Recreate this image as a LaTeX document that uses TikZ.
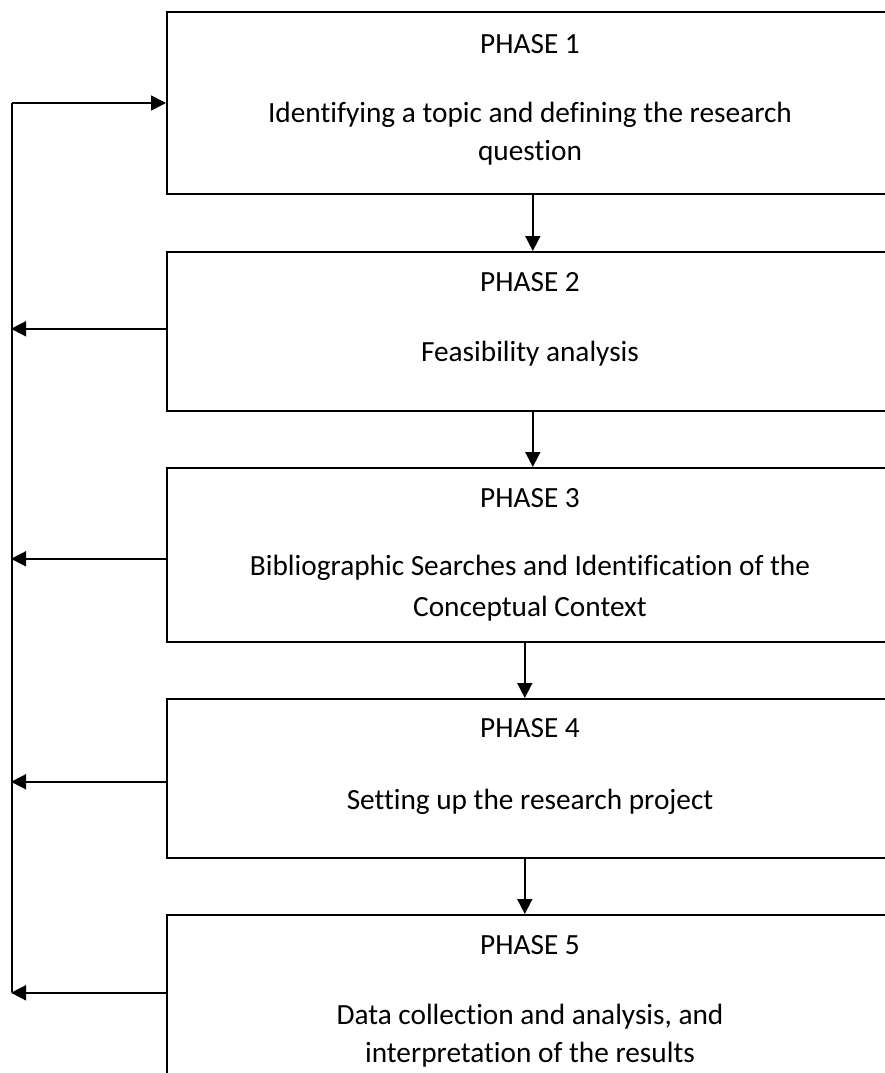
\documentclass[tikz,border=0pt]{standalone}
\usepackage{fontspec}
\setmainfont{Carlito}[Ligatures=NoCommon]
\usetikzlibrary{arrows.meta}

\tikzset{
  phasebox/.style={draw, line width=1.6pt, minimum width=728pt, inner sep=0pt, anchor=north west},
  phasetext/.style={font=\fontsize{29.3}{38}\selectfont, align=center, inner sep=0pt},
  flow/.style={line width=1.6pt, -{Triangle[length=15pt,width=15pt]}},
  bus/.style={line width=1.6pt}
}

\begin{document}
\begin{tikzpicture}[x=1pt,y=-1pt]
\useasboundingbox (0,0) rectangle (885,1073);
\clip (0,0) rectangle (885,1073);

\node[phasebox, minimum height=182pt] (p1) at (166,11) {};
\node[phasebox, minimum height=159pt] (p2) at (166,251) {};
\node[phasebox, minimum height=174pt] (p3) at (166,467) {};
\node[phasebox, minimum height=159pt] (p4) at (166,698) {};
\node[phasebox, minimum height=180pt] (p5) at (166,914) {};

\node[phasetext] (p1t) at (530,44) {PHASE 1};
\node[phasetext] (p1d) at (530,134) {Identifying a topic and defining the research\\question};
\node[phasetext] (p2t) at (530,282) {PHASE 2};
\node[phasetext] (p2d) at (530,354) {Feasibility analysis};
\node[phasetext] (p3t) at (530,498) {PHASE 3};
\node[phasetext] (p3d) at (530,588) {Bibliographic Searches and Identification of the\\[3pt]Conceptual Context};
\node[phasetext] (p4t) at (530,728) {PHASE 4};
\node[phasetext] (p4d) at (530,802) {Setting up the research project};
\node[phasetext] (p5t) at (530,945) {PHASE 5};
\node[phasetext] (p5d) at (530,1036) {Data collection and analysis, and\\interpretation of the results};

\draw[flow] ([xshift=2pt]p1.south) -- ([xshift=2pt]p2.north);
\draw[flow] ([xshift=2pt]p2.south) -- ([xshift=2pt]p3.north);
\draw[flow] ([xshift=-6pt]p3.south) -- ([xshift=-6pt]p4.north);
\draw[flow] ([xshift=-6pt]p4.south) -- ([xshift=-6pt]p5.north);

% feedback line on the left
\coordinate (top) at (12,103);
\coordinate (bot) at (12,992);
\draw[bus] (top) -- (bot);
\draw[flow] (top) -- (top -| p1.west);
\draw[flow] ([yshift=2.5pt]p2.west) -- ([yshift=2.5pt]p2.west -| 11,0);
\draw[flow] ([yshift=-4pt]p3.west) -- ([yshift=-4pt]p3.west -| 11,0);
\draw[flow] ([yshift=-3.5pt]p4.west) -- ([yshift=-3.5pt]p4.west -| 11,0);
\draw[flow] ([yshift=12pt]p5.west) -- ([yshift=12pt]p5.west -| 11,0);
\end{tikzpicture}
\end{document}
